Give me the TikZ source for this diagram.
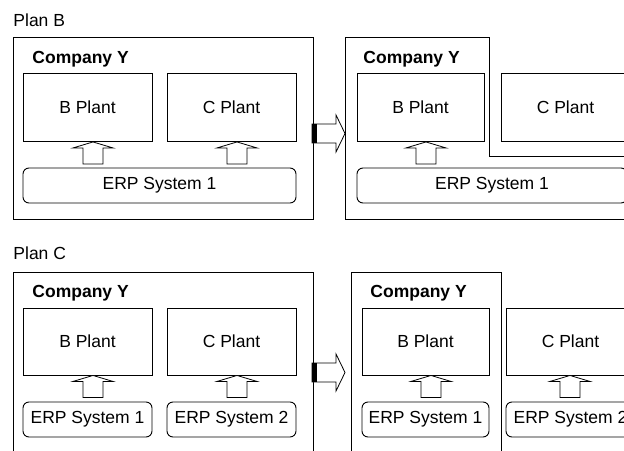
\documentclass[tikz,border=0pt]{standalone}
\usepackage{fontspec}
\setmainfont{Liberation Sans}
\usetikzlibrary{positioning}

\newcommand{\erpfeed}[1]{\draw[hollow] ([xshift=5.5pt]#1.south) -- ++(20,6) -- ++(-10,0) -- ++(0,16) -- ++(-20,0) -- ++(0,-16) -- ++(-10,0) -- cycle;}
\newcommand{\planmove}[1]{%
  \draw[hollow] (#1) ++(0,-9.5) -- ++(24,0) -- ++(0,-9) -- ++(9,18.5) -- ++(-9,18.5) -- ++(0,-9) -- ++(-24,0) -- cycle;
  \fill[black] (#1) ++(0,-9.5) rectangle ++(4.5,19);}

\begin{document}
\begin{tikzpicture}[x=1pt, y=-1pt, line width=0.9pt, font=\fontsize{17.5}{20}\selectfont]

  \tikzstyle{plant} = [rectangle, minimum width=129pt, minimum height=68pt, inner sep=0pt, text centered, draw=black, fill=white]
  \tikzstyle{erp} = [rectangle, rounded corners=6pt, minimum width=129pt, minimum height=35pt, inner sep=0pt, text centered, draw=black, fill=white]
  \tikzstyle{company} = [anchor=west, inner sep=0pt, font=\fontsize{17.5}{20}\selectfont\bfseries]
  \tikzstyle{plan} = [anchor=west, inner sep=0pt]
  \tikzstyle{frame} = [draw=black]
  \tikzstyle{hollow} = [draw=black, fill=white, line width=0.8pt, line join=miter]

  \useasboundingbox (0,0) rectangle (624,450);

  % Plan B
  \node (planB) [plan] at (13,20) {Plan B};
  \draw [frame] (13,37) rectangle (313,219);
  \node (coB) [company] at (32,59) {Company Y};
  \node (bpB) [plant] at (87.5,107.5) {B Plant};
  \node (cpB) [plant] at (231.5,107.5) {C Plant};
  \node (erpB) [erp, minimum width=273pt] at (159.5,185.5) {ERP System 1};
  \erpfeed{bpB}
  \erpfeed{cpB}

  \coordinate (moveB) at (312,133.5);
  \planmove{moveB}

  \draw [frame] (630,156) -- (489,156) -- (489,37) -- (345,37) -- (345,219) -- (630,219);
  \node (coB2) [company] at (363,59) {Company Y};
  \node (bpB2) [plant, minimum width=127pt] at (420.5,107.5) {B Plant};
  \node (cpB2) [plant] at (565.5,107.5) {C Plant};
  \node (erpB2) [erp, minimum width=270pt] at (492,185.5) {ERP System 1};
  \erpfeed{bpB2}

  % Plan C
  \node (planC) [plan] at (13,253) {Plan C};
  \draw [frame] (13,456) -- (13,272) -- (313,272) -- (313,456);
  \node (coC) [company] at (32,293) {Company Y};
  \node (bpC) [plant, minimum height=67pt] at (87.5,341.5) {B Plant};
  \node (cpC) [plant, minimum height=67pt] at (231.5,341.5) {C Plant};
  \node (erp1C) [erp] at (87.5,419.5) {ERP System 1};
  \node (erp2C) [erp] at (231.5,419.5) {ERP System 2};
  \erpfeed{bpC}
  \erpfeed{cpC}

  \coordinate (moveC) at (312,372.5);
  \planmove{moveC}

  \draw [frame] (351,456) -- (351,272) -- (501,272) -- (501,456);
  \node (coC2) [company] at (370,293) {Company Y};
  \node (bpC2) [plant, minimum width=127pt, minimum height=67pt] at (425.5,341.5) {B Plant};
  \node (cpC2) [plant, minimum height=67pt] at (570.5,341.5) {C Plant};
  \node (erp1C2) [erp, minimum width=127pt] at (425.5,419.5) {ERP System 1};
  \node (erp2C2) [erp] at (570.5,419.5) {ERP System 2};
  \erpfeed{bpC2}
  \draw[hollow] ([xshift=-0.5pt]cpC2.south) -- ++(20,6) -- ++(-10,0) -- ++(0,16) -- ++(-20,0) -- ++(0,-16) -- ++(-10,0) -- cycle;

\end{tikzpicture}
\end{document}
